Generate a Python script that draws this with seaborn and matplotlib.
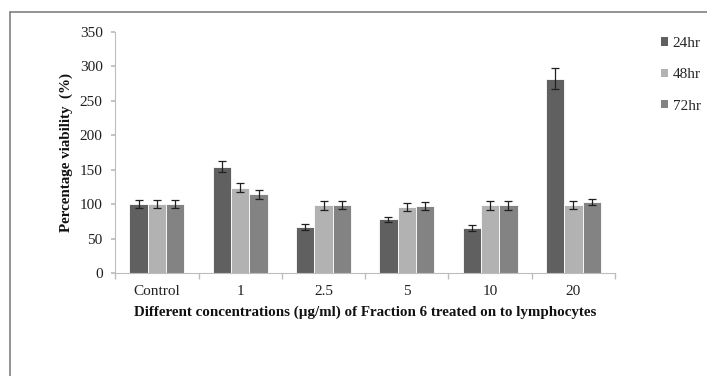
import numpy as np
import pandas as pd
import matplotlib
matplotlib.use("Agg")
import matplotlib.pyplot as plt
import seaborn as sns
from matplotlib.lines import Line2D
from matplotlib.patches import Rectangle

# Lymphocyte viability after Fraction 6 treatment
concentrations = ["Control", "1", "2.5", "5", "10", "20"]
times = ["24hr", "48hr", "72hr"]
viability_24 = [100, 154, 67, 78, 65, 282]
viability_48 = [100, 124, 98, 96, 98, 99]
viability_72 = [100, 114, 99, 97, 98, 103]
error_24 = [6, 8, 4, 4, 4, 15]
error_48 = [6, 6, 6, 6, 6, 6]
error_72 = [6, 6, 6, 6, 6, 5]

colors = ["#606060", "#b2b2b2", "#838383"]

df = pd.DataFrame({
    "conc": concentrations * 3,
    "time": [t for t in times for _ in concentrations],
    "value": viability_24 + viability_48 + viability_72,
    "err": error_24 + error_48 + error_72,
})

sns.set_theme(style="white")
plt.rcParams["font.family"] = ["Liberation Serif", "DejaVu Serif"]

fig = plt.figure(figsize=(7.07, 3.76), dpi=100)
ax = fig.add_axes([0.163, 0.274, 0.707, 0.641])

sns.barplot(data=df, x="conc", y="value", hue="time", order=concentrations,
            hue_order=times, palette=colors, errorbar=None, width=0.66,
            edgecolor="white", linewidth=0.6, ax=ax, legend=False)

# error bars at each bar centre
for container, t in zip(ax.containers, times):
    sub = df[df["time"] == t].set_index("conc").loc[concentrations]
    xs = [p.get_x() + p.get_width() / 2 for p in container.patches]
    ax.errorbar(xs, sub["value"].values, yerr=sub["err"].values, fmt="none",
                ecolor="#202020", elinewidth=0.9, capsize=3, capthick=0.9)

ax.set_ylim(0, 350)
ax.set_yticks(np.arange(0, 351, 50))
ax.set_xlim(-0.5, len(concentrations) - 0.5)

for side in ["top", "right"]:
    ax.spines[side].set_visible(False)
for side in ["left", "bottom"]:
    ax.spines[side].set_color("#bdbdbd")
    ax.spines[side].set_linewidth(0.8)

ax.tick_params(axis="y", length=3, color="#bdbdbd", labelsize=11, pad=6,
               labelcolor="#202020", left=True)
ax.tick_params(axis="x", length=0, labelsize=11, pad=9, labelcolor="#202020")
ax.set_xticks(np.arange(-0.5, len(concentrations)), minor=True)
ax.tick_params(axis="x", which="minor", length=4, color="#bdbdbd", bottom=True)

ax.set_xlabel("Different concentrations (\u00b5g/ml) of Fraction 6 treated on to lymphocytes",
              fontsize=10.8, fontweight="bold", labelpad=5, color="#111111")
ax.set_ylabel("Percentage viability  (%)", fontsize=10.8, fontweight="bold",
              labelpad=5, color="#111111")

handles = [Rectangle((0, 0), 1, 1, facecolor=c, edgecolor="none") for c in colors]
fig.legend(handles, times, loc="upper left", bbox_to_anchor=(0.935, 0.902),
           frameon=False, fontsize=11, handlelength=0.45, handleheight=0.45,
           handletextpad=0.3, labelspacing=1.2, borderaxespad=0, borderpad=0)

# frame lines along the top and left of the figure
fig.add_artist(Line2D([0.014, 1.0], [0.967, 0.967], transform=fig.transFigure,
                      color="#808080", linewidth=1.2))
fig.add_artist(Line2D([0.014, 0.014], [0.0, 0.967], transform=fig.transFigure,
                      color="#808080", linewidth=1.2))

fig.savefig("out.png", dpi=100)
